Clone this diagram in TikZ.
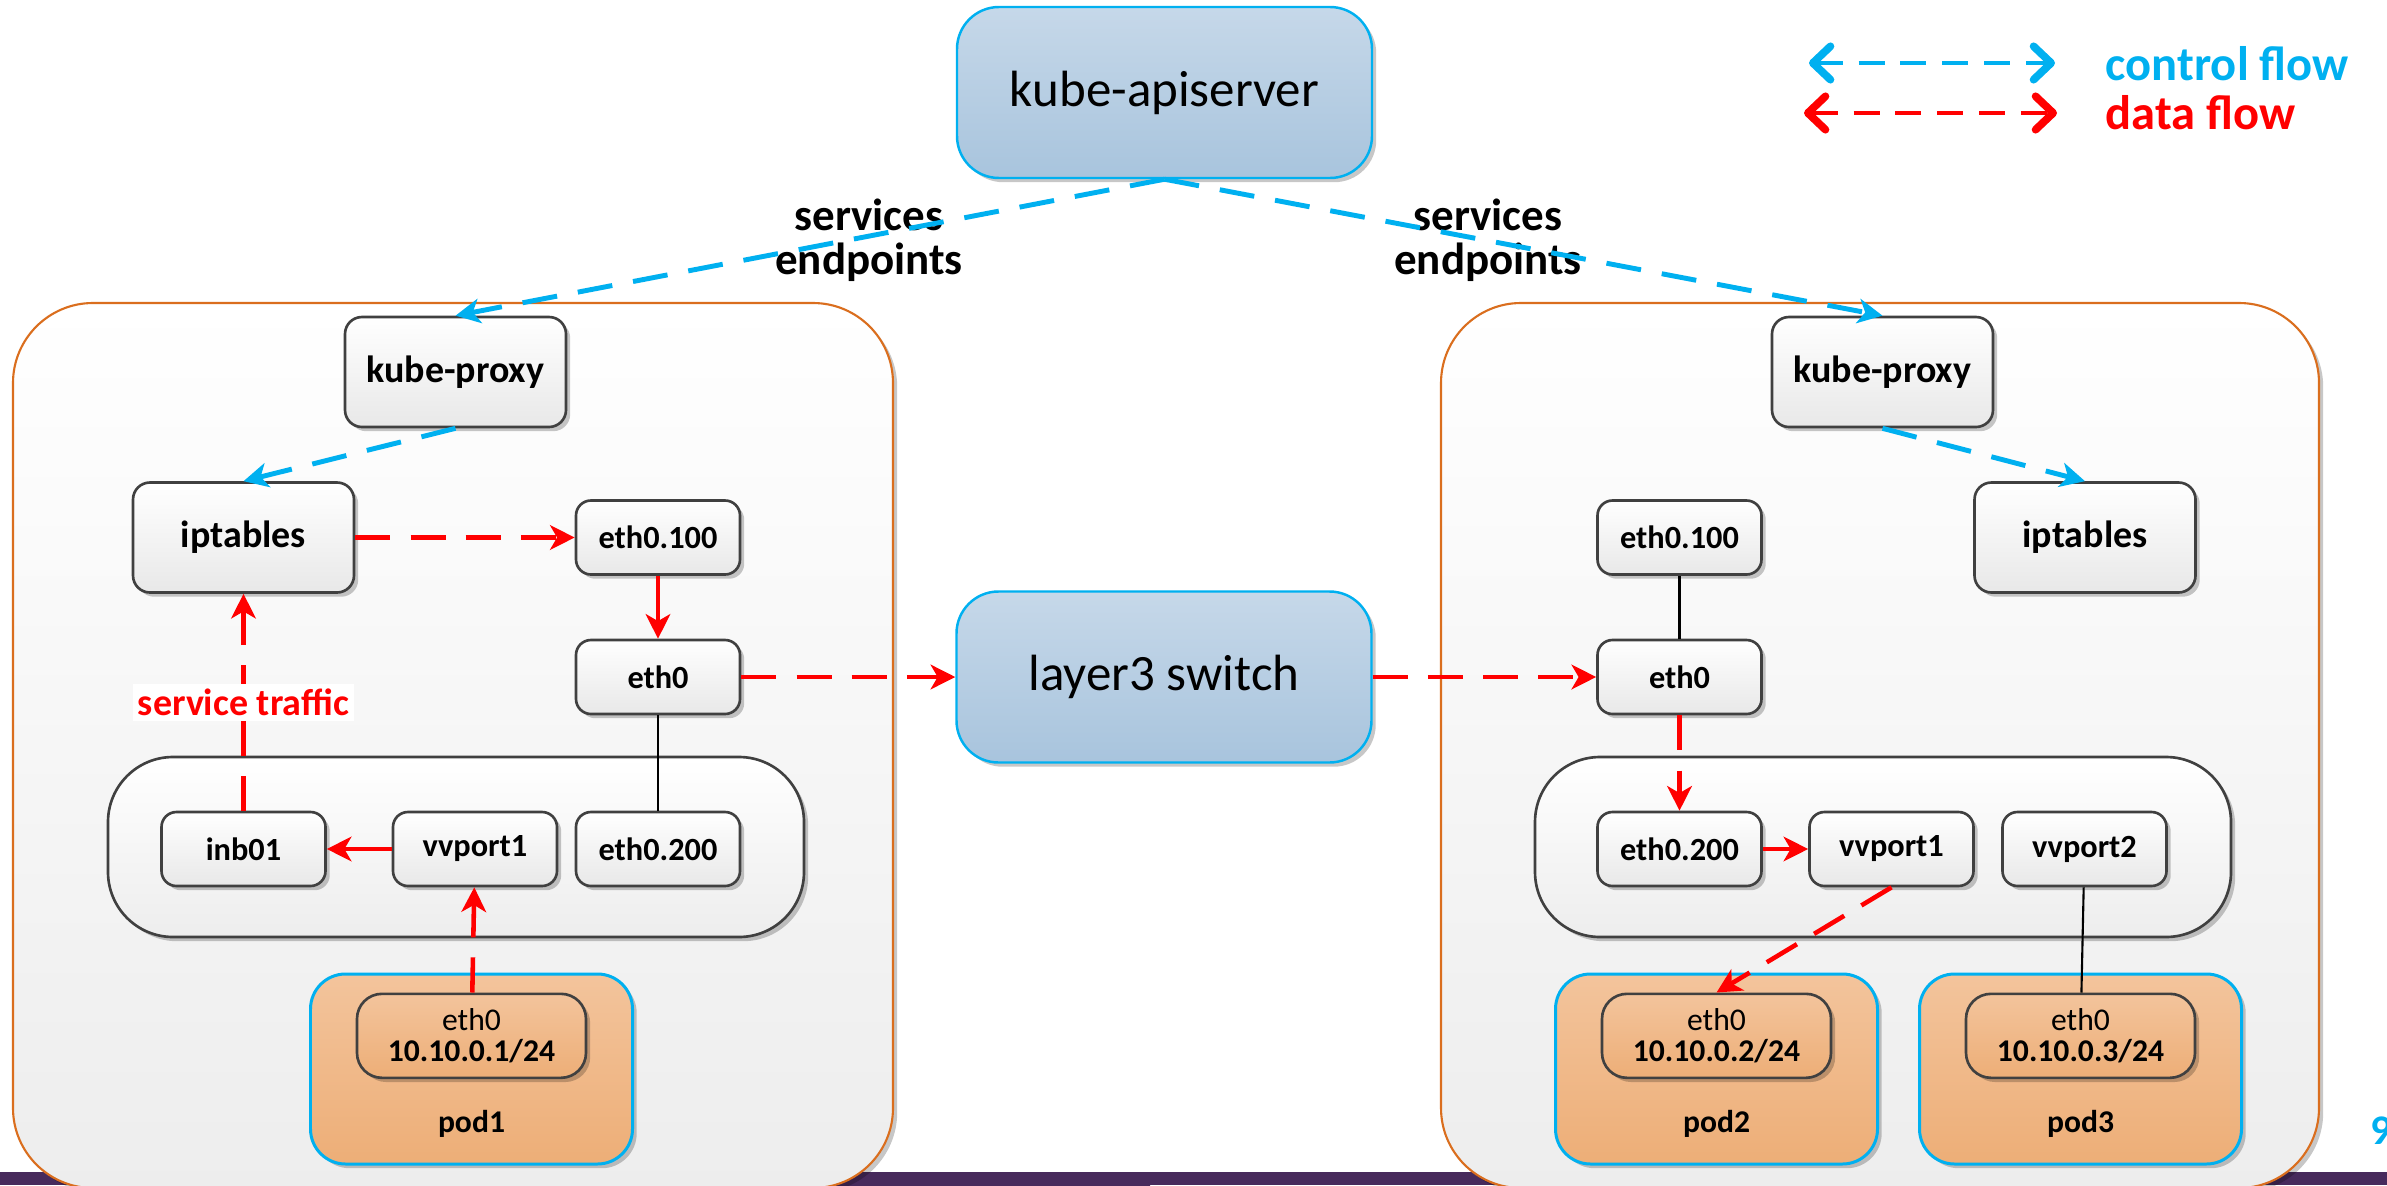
\documentclass[tikz,border=0pt]{standalone}
\usepackage{fontspec}
\setmainfont{Carlito}
\usetikzlibrary{positioning, arrows.meta, shadows}

\definecolor{cyanline}{HTML}{00B0F0}
\definecolor{hostline}{HTML}{DA6E1E}
\definecolor{boxline}{HTML}{404040}
\definecolor{bluetop}{HTML}{C6D8E9}
\definecolor{bluebot}{HTML}{A8C4DD}
\definecolor{podtop}{HTML}{F3C49C}
\definecolor{podbot}{HTML}{EDAE77}
\definecolor{band}{HTML}{472A5C}
\definecolor{bandnavy}{HTML}{101A4E}

\tikzset{
    shadowed/.style={drop shadow={shadow xshift=1.2pt, shadow yshift=-1.2pt, opacity=.22, fill=black}},
    bigbox/.style={draw=cyanline, line width=0.7pt, rounded corners=0.42cm, top color=bluetop, bottom color=bluebot,
        minimum width=4.15cm, minimum height=1.71cm, font=\fontsize{14.5}{17}\selectfont, shadowed},
    host/.style={draw=hostline, line width=0.6pt, rounded corners=0.8cm, top color=white, bottom color=black!7, shadowed},
    bridge/.style={draw=boxline, line width=0.75pt, rounded corners=0.65cm, top color=white, bottom color=black!7,
        minimum width=6.96cm, minimum height=1.8cm, shadowed},
    box/.style={draw=boxline, line width=0.75pt, rounded corners=0.17cm, top color=white, bottom color=black!9,
        minimum width=2.21cm, minimum height=1.1cm, font=\fontsize{10.8}{13}\selectfont\bfseries, shadowed},
    port/.style={box, rounded corners=0.15cm, minimum width=1.64cm, minimum height=0.74cm,
        font=\fontsize{9.2}{11}\selectfont\bfseries},
    pod/.style={draw=cyanline, line width=0.85pt, rounded corners=0.35cm, top color=podtop, bottom color=podbot,
        minimum width=3.22cm, minimum height=1.9cm, shadowed},
    podif/.style={draw=boxline, line width=0.75pt, rounded corners=0.25cm, top color=podtop, bottom color=podbot,
        minimum width=2.29cm, minimum height=0.84cm, align=center, font=\fontsize{9}{9}\selectfont, shadowed},
    podtag/.style={font=\fontsize{9}{11}\selectfont\bfseries},
    note/.style={font=\fontsize{12.8}{12.5}\selectfont\bfseries, align=center},
    ctrl/.style={cyanline, line width=1.4pt, dash pattern=on 10pt off 6pt, -{Stealth[length=7pt, width=7pt, inset=2pt]}},
    data/.style={red, line width=1.3pt, dash pattern=on 10pt off 5.7pt, -{Stealth[length=7pt, width=7pt, inset=2pt]}},
    datasolid/.style={red, line width=1.1pt, -{Stealth[length=7pt, width=7pt, inset=2pt]}},
    link/.style={black, line width=0.6pt},
    barb/.tip={Straight Barb[length=5pt, width=9.5pt, line width=2.2pt, round]},
}

\begin{document}
\begin{tikzpicture}
    \useasboundingbox (0,0) rectangle (23.87,11.85);

    \fill[band] (0,0) rectangle (23.87,0.13);
    \shade[left color=band, middle color=bandnavy, right color=band] (6.5,0) rectangle (11.5,0.13);

    \node[host, minimum width=8.8cm, minimum height=8.85cm] (hostL) at (4.53,4.395) {};
    \node[host, minimum width=8.78cm, minimum height=8.85cm] (hostR) at (18.80,4.395) {};

    \node[bigbox] (api) at (11.645,10.925) {kube-apiserver};
    \node[bigbox] (sw) at (11.64,5.08) {layer3 switch};

    \node[note] (seL) at (8.69,9.45) {services\\endpoints};
    \node[note] (seR) at (14.88,9.45) {services\\endpoints};

    % left node
    \node[box] (kpL) at (4.555,8.13) {kube-proxy};
    \node[box] (iptL) at (2.435,6.475) {iptables};
    \node[port] (e100L) at (6.58,6.475) {eth0.100};
    \node[port] (e0L) at (6.58,5.08) {eth0};
    \node[bridge] (brL) at (4.56,3.38) {};
    \node[port] (inbL) at (2.435,3.36) {inb01};
    \node[port] (vv1L) at (4.75,3.36) {vvport1};
    \node[port] (e200L) at (6.58,3.36) {eth0.200};
    \node[pod] (pod1) at (4.715,1.16) {};
    \node[podif, below=0.2cm of pod1.north] (p1if) {eth0\\\textbf{10.10.0.1/24}};
    \node[podtag, above=0.16cm of pod1.south] {pod1};

    % right node
    \node[box] (kpR) at (18.825,8.13) {kube-proxy};
    \node[box] (iptR) at (20.85,6.475) {iptables};
    \node[port] (e100R) at (16.795,6.475) {eth0.100};
    \node[port] (e0R) at (16.795,5.08) {eth0};
    \node[bridge] (brR) at (18.83,3.38) {};
    \node[port] (e200R) at (16.795,3.36) {eth0.200};
    \node[port] (vv1R) at (18.915,3.36) {vvport1};
    \node[port] (vv2) at (20.845,3.36) {vvport2};
    \node[pod] (pod2) at (17.165,1.16) {};
    \node[podif, below=0.2cm of pod2.north] (p2if) {eth0\\\textbf{10.10.0.2/24}};
    \node[podtag, above=0.16cm of pod2.south] {pod2};
    \node[pod] (pod3) at (20.805,1.16) {};
    \node[podif, below=0.2cm of pod3.north] (p3if) {eth0\\\textbf{10.10.0.3/24}};
    \node[podtag, above=0.16cm of pod3.south] {pod3};

    \draw[ctrl] (api.south) -- (kpL.north);
    \draw[ctrl] (api.south) -- (kpR.north);
    \draw[ctrl] (kpL.south) -- (iptL.north);
    \draw[ctrl] (kpR.south) -- (iptR.north);

    \draw[data] (iptL.east) -- (e100L.west);
    \draw[datasolid] (e100L) -- (e0L);
    \draw[data] (e0L.east) -- (sw.west);
    \draw[link] (e0L) -- (e200L);
    \draw[datasolid] (vv1L) -- (inbL);
    \draw[data] (p1if) -- (vv1L);
    \draw[data] (inbL) -- node[midway, fill=white, inner sep=1.5pt, text=red,
        font=\fontsize{10.8}{13}\selectfont\bfseries] {service traffic} (iptL);

    \draw[data] (sw.east) -- (e0R.west);
    \draw[link] (e100R) -- (e0R);
    \draw[data] (e0R) -- (e200R);
    \draw[datasolid] (e200R) -- (vv1R);
    \draw[data] (vv1R.south) -- (p2if.north);
    \draw[link] (vv2) -- (p3if);

    \coordinate (lc1) at (18.09,11.22);
    \coordinate (lc2) at (20.55,11.22);
    \coordinate (ld1) at (18.04,10.72);
    \coordinate (ld2) at (20.57,10.72);
    \draw[cyanline, line width=1.1pt, dash pattern=on 7.4pt off 4.5pt, barb-barb] (lc1) -- (lc2);
    \draw[red, line width=1.3pt, dash pattern=on 7.4pt off 4.5pt, barb-barb] (ld1) -- (ld2);
    \node[anchor=west, inner sep=0, text=cyanline, font=\fontsize{13.8}{16}\selectfont\bfseries] (lctext) at (21.05,11.215) {control flow};
    \node[anchor=west, inner sep=0, text=red, font=\fontsize{13.8}{16}\selectfont\bfseries] (ldtext) at (21.05,10.725) {data flow};

    \node[anchor=west, inner sep=0, text=cyanline, font=\fontsize{12}{14}\selectfont\bfseries] (pagenum) at (23.70,0.54) {9};
\end{tikzpicture}
\end{document}
